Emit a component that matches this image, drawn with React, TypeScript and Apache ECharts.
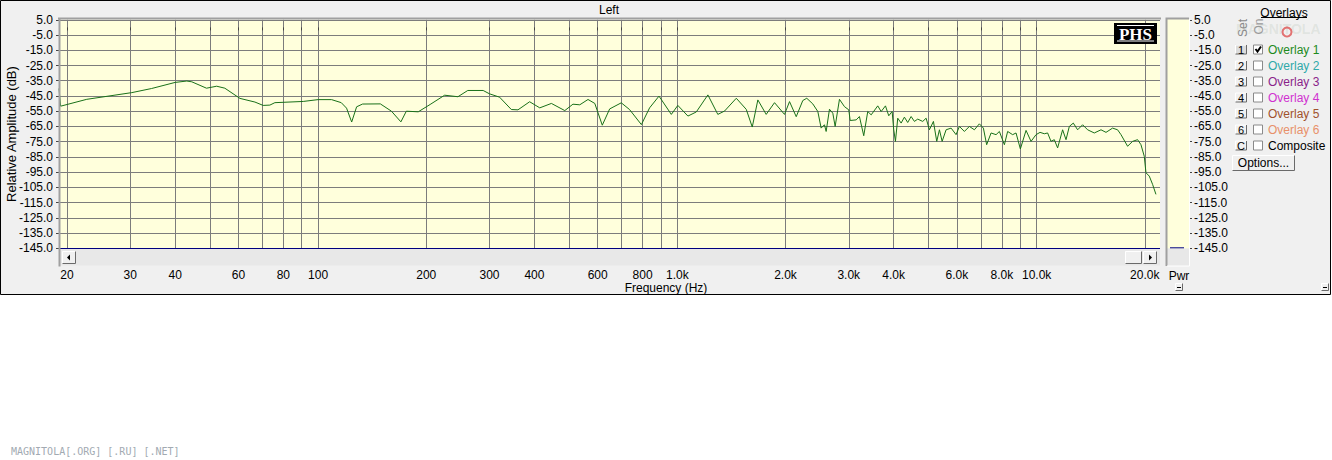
import React, { useEffect, useRef } from "react";
import * as echarts from "echarts";

// Measured spectrum (frequency in Hz, level in dB)
const freqHz = [
  19.0, 19.2, 22.7, 30.3, 34.4, 40.0, 43.1, 44.5, 48.9, 52.2,
  55.0, 60.6, 66.7, 70.3, 73.4, 75.8, 90.9, 100, 109, 116,
  120, 124, 128, 133, 149, 160, 170, 176, 190, 205,
  225, 245, 261, 288, 300, 320, 345, 360, 388, 414,
  446, 486, 512, 535, 564, 589, 618, 648, 698, 736,
  794, 837, 889, 962, 1003, 1070, 1129, 1216, 1296, 1353,
  1459, 1555, 1616, 1675, 1767, 1864, 1987, 2052, 2142,
  2234, 2292, 2382, 2460, 2513, 2567, 2595, 2651, 2708, 2749,
  2826, 2918, 3000, 3027, 3146, 3212, 3302, 3388, 3463, 3612,
  3692, 3795, 3876, 3961, 4002, 4046, 4106, 4196, 4285, 4377,
  4474, 4569, 4667, 4819, 4925, 5030, 5161, 5272, 5364, 5457,
  5598, 5780, 5968, 6095, 6294, 6499, 6710, 6928, 7109, 7260,
  7468, 7711, 7876, 8133, 8305, 8575, 8764, 9010, 9344, 9648,
  9961, 10221, 10505, 10730, 10965, 11200, 11440, 11812, 12073, 12331,
  12650, 13004, 13428, 13865, 14471, 15108, 15600, 16272, 16801, 17173,
  17916, 18499, 19099, 19517, 19935, 20152, 20584, 21025, 21485,
];
const levelDb = [
  -40.1, -51.7, -47.2, -42.8, -40.1, -36.1, -35.2, -35.7, -39.9, -38.6,
  -39.9, -46.6, -49.0, -51.2, -51.0, -49.4, -48.6, -47.4, -47.4, -49.4,
  -53.0, -62.1, -52.1, -50.3, -50.2, -55.0, -62.0, -55.0, -55.4, -50.6,
  -44.5, -45.5, -41.4, -41.4, -43.6, -45.8, -53.9, -54.1, -48.8, -52.8,
  -49.9, -54.6, -50.4, -50.8, -47.3, -49.9, -64.2, -53.5, -49.5, -53.9,
  -63.8, -52.8, -45.1, -57.1, -51.2, -58.2, -55.5, -44.3, -57.1, -54.9,
  -46.5, -53.8, -65.4, -47.6, -57.1, -49.4, -57.1, -48.7, -58.6,
  -48.0, -46.5, -50.2, -55.2, -66.1, -63.9, -68.3, -53.7, -56.3, -65.0,
  -47.2, -52.0, -54.1, -61.1, -60.7, -58.5, -71.1, -55.2, -57.4, -51.5,
  -55.2, -51.5, -58.0, -55.2, -67.2, -74.8, -59.6, -62.8, -58.9, -62.4,
  -58.5, -61.7, -60.2, -61.7, -59.6, -67.2, -61.7, -74.8, -67.2, -74.8,
  -67.2, -66.1, -70.4, -65.0, -68.3, -65.0, -67.2, -63.3, -66.1, -77.0,
  -69.3, -70.4, -68.3, -77.0, -68.3, -70.4, -69.3, -79.8, -67.6, -74.8,
  -70.4, -68.9, -69.8, -69.3, -74.8, -73.7, -79.1, -67.2, -73.7, -65.0,
  -62.8, -67.2, -63.9, -67.2, -69.3, -67.2, -68.9, -66.1, -67.2, -70.4,
  -78.0, -74.8, -73.7, -77.0, -84.6, -95.4, -97.6, -103.0, -109.6,
];

const gridFreqs = [
  20, 30, 40, 50, 60, 70, 80, 90, 100, 200, 300, 400, 500, 600, 700, 800, 900,
  1000, 2000, 3000, 4000, 5000, 6000, 7000, 8000, 9000, 10000, 20000,
];
const labelFreqs = [
  20, 30, 40, 60, 80, 100, 200, 300, 400, 600, 800, 1000, 2000, 3000, 4000,
  6000, 8000, 10000, 20000,
];
const dbTicks = [
  5, -5, -15, -25, -35, -45, -55, -65, -75, -85, -95, -105, -115, -125, -135, -145,
];
const overlayButtons = ["1", "2", "3", "4", "5", "6", "C"];
const overlayNames = [
  "Overlay 1", "Overlay 2", "Overlay 3", "Overlay 4", "Overlay 5", "Overlay 6", "Composite",
];
const overlayColors = [
  "#1d8a1d", "#2fa9a9", "#8a1f8a", "#d030d0", "#a0522d", "#e8906a", "#000000",
];
const overlayChecked = [true, false, false, false, false, false, false];

const FONT = "Liberation Sans, Arial, sans-serif";

function bevel(x: number, y: number, w: number, h: number, fill = "#f0f0f0", z = 6): any[] {
  return [
    { type: "rect", z, silent: true, shape: { x, y, width: w, height: h }, style: { fill } },
    {
      type: "polyline", z: z + 1, silent: true,
      shape: { points: [[x + 0.5, y + h - 0.5], [x + 0.5, y + 0.5], [x + w - 0.5, y + 0.5]] },
      style: { stroke: "#ffffff", lineWidth: 1, fill: null },
    },
    {
      type: "polyline", z: z + 1, silent: true,
      shape: { points: [[x + 0.5, y + h - 0.5], [x + w - 0.5, y + h - 0.5], [x + w - 0.5, y + 0.5]] },
      style: { stroke: "#6a6a6a", lineWidth: 1, fill: null },
    },
  ];
}

function fmtFreq(v: number): string {
  return v >= 1000 ? (v / 1000).toFixed(1) + "k" : String(v);
}

function buildGraphics(): any[] {
  const els: any[] = [];
  // panel background
  els.push({
    type: "rect", z: -10, silent: true,
    shape: { x: 0.5, y: 0.5, width: 1330, height: 294 },
    style: { fill: "#f0f0f0", stroke: "#000000", lineWidth: 1 },
  });
  // title
  els.push({
    type: "text", z: 10, silent: true, x: 609, y: 9.5,
    style: { text: "Left", font: `12px ${FONT}`, fill: "#000", align: "center", verticalAlign: "middle" },
  });
  // scrollbar strip
  els.push({
    type: "rect", z: 4, silent: true,
    shape: { x: 60, y: 249, width: 1100, height: 16.5 },
    style: { fill: "#e8e8e8" },
  });
  // plot frame (sunken)
  els.push({
    type: "line", z: 8, silent: true,
    shape: { x1: 58, y1: 18.6, x2: 1161, y2: 18.6 },
    style: { stroke: "#a0a0a0", lineWidth: 2 },
  });
  els.push({
    type: "line", z: 8, silent: true,
    shape: { x1: 59.5, y1: 18, x2: 59.5, y2: 266.5 },
    style: { stroke: "#a0a0a0", lineWidth: 2 },
  });
  // left scroll button
  els.push(...bevel(62, 251, 14, 13));
  els.push({
    type: "polygon", z: 9, silent: true,
    shape: { points: [[67, 257.5], [70, 254.5], [70, 260.5]] },
    style: { fill: "#000" },
  });
  // thumb and right button
  els.push(...bevel(1125, 251, 17, 13));
  els.push(...bevel(1143, 251, 14, 13));
  els.push({
    type: "polygon", z: 9, silent: true,
    shape: { points: [[1152, 257.5], [1149, 254.5], [1149, 260.5]] },
    style: { fill: "#000" },
  });
  // Pwr bar
  els.push({
    type: "rect", z: 4, silent: true,
    shape: { x: 1166, y: 19, width: 23, height: 229.5 },
    style: { fill: "#ffffdc" },
  });
  els.push({
    type: "rect", z: 4, silent: true,
    shape: { x: 1166, y: 248.5, width: 23, height: 17.5 },
    style: { fill: "#e8e8e8" },
  });
  els.push({
    type: "polyline", z: 6, silent: true,
    shape: { points: [[1166.5, 266], [1166.5, 18.6], [1189, 18.6]] },
    style: { stroke: "#a0a0a0", lineWidth: 2, fill: null },
  });
  els.push({
    type: "polyline", z: 6, silent: true,
    shape: { points: [[1167, 266], [1189.5, 266], [1189.5, 19]] },
    style: { stroke: "#ffffff", lineWidth: 1, fill: null },
  });
  els.push({
    type: "line", z: 7, silent: true,
    shape: { x1: 1170, y1: 247.8, x2: 1184, y2: 247.8 },
    style: { stroke: "#000080", lineWidth: 1 },
  });
  els.push({
    type: "text", z: 10, silent: true, x: 1179, y: 276,
    style: { text: "Pwr", font: `12px ${FONT}`, fill: "#000", align: "center", verticalAlign: "middle" },
  });
  // tiny minimize boxes
  [1175, 1321].forEach((bx) => {
    els.push(...bevel(bx, 283, 8, 8, "#f0f0f0", 8));
    els.push({
      type: "line", z: 10, silent: true,
      shape: { x1: bx + 2, y1: 287.5, x2: bx + 6, y2: 287.5 },
      style: { stroke: "#000", lineWidth: 1 },
    });
  });
  // x axis title
  els.push({
    type: "text", z: 10, silent: true, x: 666, y: 287.5,
    style: { text: "Frequency (Hz)", font: `12px ${FONT}`, fill: "#000", align: "center", verticalAlign: "middle" },
  });
  // PHS logo
  els.push({
    type: "rect", z: 10, silent: true,
    shape: { x: 1114, y: 23, width: 43, height: 21 },
    style: { fill: "#000" },
  });
  els.push({
    type: "line", z: 11, silent: true,
    shape: { x1: 1117, y1: 25.5, x2: 1154, y2: 25.5 },
    style: { stroke: "#fff", lineWidth: 1 },
  });
  els.push({
    type: "line", z: 11, silent: true,
    shape: { x1: 1117, y1: 41, x2: 1154, y2: 41 },
    style: { stroke: "#fff", lineWidth: 1 },
  });
  els.push({
    type: "text", z: 11, silent: true, x: 1135.5, y: 34,
    style: {
      text: "PHS", font: `bold 17px Liberation Serif, Times New Roman, serif`, fill: "#fff",
      align: "center", verticalAlign: "middle",
    },
  });
  // watermark
  els.push({
    type: "text", z: 5, silent: true, x: 1236, y: 29,
    style: {
      text: "MAGNITOLA", font: `bold 14px ${FONT}`, fill: "rgba(120,150,120,0.14)",
      align: "left", verticalAlign: "middle",
    },
  });
  els.push({
    type: "circle", z: 5, silent: true,
    shape: { cx: 1287, cy: 32, r: 4.5 },
    style: { fill: null, stroke: "rgba(220,60,60,0.7)", lineWidth: 2 },
  });
  // Overlays panel
  els.push({
    type: "text", z: 10, silent: true, x: 1284, y: 12.5,
    style: { text: "Overlays", font: `12px ${FONT}`, fill: "#000", align: "center", verticalAlign: "middle" },
  });
  els.push({
    type: "line", z: 10, silent: true,
    shape: { x1: 1261, y1: 17.5, x2: 1307, y2: 17.5 },
    style: { stroke: "#000", lineWidth: 1 },
  });
  els.push({
    type: "text", z: 10, silent: true, x: 1243, y: 28, rotation: Math.PI / 2,
    style: { text: "Set", font: `12px ${FONT}`, fill: "#8a8a8a", align: "center", verticalAlign: "middle" },
  });
  els.push({
    type: "text", z: 10, silent: true, x: 1258.5, y: 26.5, rotation: Math.PI / 2,
    style: { text: "On", font: `12px ${FONT}`, fill: "#9a9a9a", align: "center", verticalAlign: "middle" },
  });
  overlayNames.forEach((name, i) => {
    const cy = 49.5 + 16 * i;
    els.push(...bevel(1235, cy - 5, 12, 10, i === 0 ? "#dcdcdc" : "#f0f0f0", 8));
    els.push({
      type: "text", z: 10, silent: true, x: 1241, y: cy,
      style: { text: overlayButtons[i], font: `11px ${FONT}`, fill: "#000", align: "center", verticalAlign: "middle" },
    });
    els.push({
      type: "rect", z: 8, silent: true,
      shape: { x: 1253.5, y: cy - 4.5, width: 9, height: 9 },
      style: { fill: "#ffffff", stroke: "#8a8a8a", lineWidth: 1 },
    });
    if (overlayChecked[i]) {
      els.push({
        type: "polyline", z: 10, silent: true,
        shape: { points: [[1255.5, cy - 0.5], [1257.5, cy + 2], [1261, cy - 3]] },
        style: { stroke: "#000", lineWidth: 2, fill: null },
      });
    }
    els.push({
      type: "text", z: 10, silent: true, x: 1268, y: cy,
      style: { text: name, font: `12px ${FONT}`, fill: overlayColors[i], align: "left", verticalAlign: "middle" },
    });
  });
  els.push(...bevel(1232, 155, 63, 16, "#f0f0f0", 8));
  els.push({
    type: "text", z: 10, silent: true, x: 1263.5, y: 163,
    style: { text: "Options...", font: `12px ${FONT}`, fill: "#000", align: "center", verticalAlign: "middle" },
  });
  // site footer
  els.push({
    type: "text", z: 10, silent: true, x: 11, y: 451,
    style: {
      text: "MAGNITOLA[.ORG] [.RU] [.NET]", font: `10px DejaVu Sans Mono, monospace`,
      fill: "#a2aab2", align: "left", verticalAlign: "middle",
    },
  });
  return els;
}

export default function App() {
  const ref = useRef<HTMLDivElement>(null);
  useEffect(() => {
    if (!ref.current) return;
    const chart = echarts.init(ref.current, null, { renderer: "svg" });
    const data = freqHz.map((f, i) => [f, levelDb[i]]);
    const gridLine = { show: true, lineStyle: { color: "#7c7c7c", width: 1, type: "solid" } };
    const option: any = {
      animation: false,
      backgroundColor: "#ffffff",
      grid: {
        left: 59, top: 19.8, width: 1101, height: 228.5,
        show: true, backgroundColor: "#ffffdc", borderWidth: 0,
        containLabel: false, outerBoundsMode: "none",
      },
      xAxis: {
        type: "log", logBase: 10, min: 19, max: 22050, offset: 17,
        axisLine: { show: false },
        axisTick: { show: true, customValues: gridFreqs, length: 3, inside: false, lineStyle: { color: "#444" } },
        axisLabel: {
          customValues: labelFreqs, formatter: (v: number) => fmtFreq(v), margin: 4,
          fontSize: 12, fontFamily: FONT, color: "#000", hideOverlap: false,
        },
        splitLine: gridLine,
        minorTick: { show: false },
        minorSplitLine: { show: false },
      },
      yAxis: [
        {
          type: "value", min: -145, max: 5, position: "left",
          name: "Relative Amplitude (dB)", nameLocation: "middle", nameGap: 41,
          nameMoveOverlap: false,
          nameTextStyle: { fontSize: 13, fontFamily: FONT, color: "#000" },
          axisLine: { show: false },
          axisTick: { show: true, customValues: dbTicks, length: 3, lineStyle: { color: "#444" } },
          axisLabel: {
            customValues: dbTicks, formatter: (v: number) => v.toFixed(1), margin: 6,
            fontSize: 12, fontFamily: FONT, color: "#000", hideOverlap: false,
          },
          splitLine: gridLine,
        },
        {
          type: "value", min: -145, max: 5, position: "right", offset: 29,
          axisLine: { show: false },
          axisTick: { show: true, customValues: dbTicks, length: 3, lineStyle: { color: "#444" } },
          axisLabel: {
            customValues: dbTicks, formatter: (v: number) => v.toFixed(1), margin: 5,
            fontSize: 12, fontFamily: FONT, color: "#000", hideOverlap: false,
          },
          splitLine: { show: false },
        },
      ],
      series: [
        {
          type: "line", xAxisIndex: 0, yAxisIndex: 0, data,
          showSymbol: false, symbol: "none", smooth: false,
          lineStyle: { color: "#197019", width: 1 },
          z: 3,
          markLine: {
            silent: true, symbol: ["none", "none"], label: { show: false },
            lineStyle: { color: "#000080", width: 1, type: "solid" },
            data: [{ yAxis: -145 }],
          },
        },
      ],
      graphic: { elements: buildGraphics() },
    };
    chart.setOption(option);
    return () => chart.dispose();
  }, []);
  return (
    <div
      ref={ref}
      style={{ position: "absolute", left: 0, top: 0, width: 1332, height: 460, background: "#fff" }}
    />
  );
}
